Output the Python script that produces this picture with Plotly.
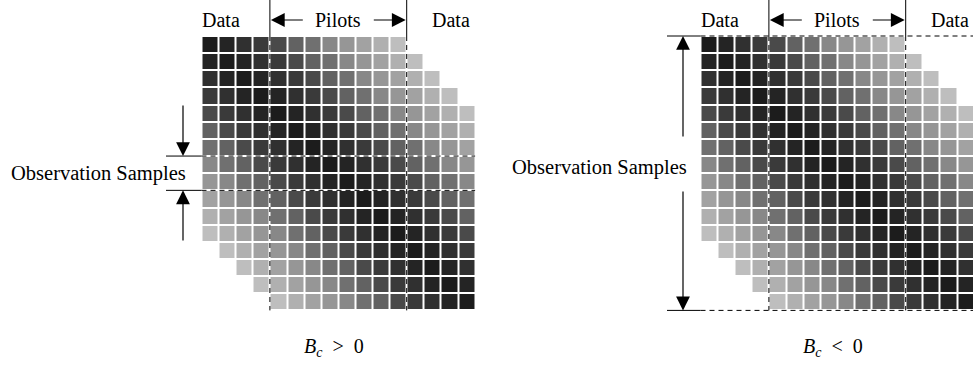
import plotly.graph_objects as go

# ---- data ----
N_ROWS = 16
N_COLS = 16
BAND = 11  # cells filled where |row - col| <= BAND
# gray level (0-255) by diagonal distance |row - col|
GRAY_BY_DIST = [28, 36, 48, 58, 74, 98, 112, 136, 150, 162, 176, 190]
DATA_COLS_LEFT = 4
PILOT_COLS = 8
PANEL_LABELS = ["<i>B</i><sub><i>c</i></sub>  &gt;  0", "<i>B</i><sub><i>c</i></sub>  &lt;  0"]

W, H = 973, 367
CELL_W = 17.1
CELL_H = 17.15
GRID_TOP = 36
PANEL_LEFTS = [201.5, 700.5]
FONT = "Liberation Serif, Times New Roman, serif"

z = [[(GRAY_BY_DIST[abs(r - c)] if abs(r - c) <= BAND else None) for c in range(N_COLS)]
     for r in range(N_ROWS)]

fig = go.Figure()
for left in PANEL_LEFTS:
    xs = [left + CELL_W * (c + 0.5) for c in range(N_COLS)]
    ys = [GRID_TOP + CELL_H * (r + 0.5) for r in range(N_ROWS)]
    fig.add_trace(go.Heatmap(
        z=z, x=xs, y=ys, zmin=0, zmax=255,
        colorscale=[[0, "rgb(0,0,0)"], [1, "rgb(255,255,255)"]],
        showscale=False, xgap=2, ygap=2, hoverinfo="skip"))

shapes = []
annotations = []
LINE = dict(color="black", width=1)
DASH = dict(color="black", width=1, dash="5px,4px")
grid_bottom = GRID_TOP + CELL_H * N_ROWS

def text(x, y, s, size=20):
    annotations.append(dict(x=x, y=y, xref="x", yref="y", text=s, showarrow=False,
                            font=dict(family=FONT, size=size, color="black"),
                            xanchor="center", yanchor="middle"))

def arrow(x0, y0, x1, y1):
    # arrow head at (x1, y1)
    annotations.append(dict(x=x1, y=y1, ax=x0, ay=y0, xref="x", yref="y",
                            axref="x", ayref="y", text="", showarrow=True,
                            arrowhead=2, arrowsize=2.3, arrowwidth=1.2,
                            arrowcolor="black"))

for i, left in enumerate(PANEL_LEFTS):
    xp0 = left + CELL_W * DATA_COLS_LEFT
    xp1 = left + CELL_W * (DATA_COLS_LEFT + PILOT_COLS)
    # pilot boundary lines
    for xb in (xp0, xp1):
        shapes.append(dict(type="line", x0=xb, x1=xb, y0=0, y1=GRID_TOP, line=LINE))
        shapes.append(dict(type="line", x0=xb, x1=xb, y0=GRID_TOP, y1=grid_bottom, line=DASH))
    # headings
    xm = (xp0 + xp1) / 2
    text(left + 19.5, 20, "Data")
    text(xp1 + 44, 20, "Data")
    text(xm, 20, "Pilots")
    arrow(xm - 34, 20, xp0 + 1, 20)
    arrow(xm + 34, 20, xp1 - 1, 20)
    # bottom label
    text(left + CELL_W * N_COLS / 2 - 4, 347, PANEL_LABELS[i], size=20)

# left panel: observation samples rows 7-8
left = PANEL_LEFTS[0]
ya = GRID_TOP + CELL_H * 7
yb = GRID_TOP + CELL_H * 9
for yy in (ya, yb):
    shapes.append(dict(type="line", x0=166, x1=left, y0=yy, y1=yy, line=LINE))
    shapes.append(dict(type="line", x0=left, x1=left + CELL_W * N_COLS, y0=yy, y1=yy, line=DASH))
arrow(183, 104, 183, ya)
arrow(183, 242, 183, yb)
text(98, (ya + yb) / 2, "Observation Samples", size=20.5)

# right panel: observation samples all rows
left = PANEL_LEFTS[1]
for yy in (GRID_TOP, grid_bottom):
    shapes.append(dict(type="line", x0=667, x1=left, y0=yy, y1=yy, line=LINE))
    shapes.append(dict(type="line", x0=left, x1=W, y0=yy, y1=yy, line=DASH))
arrow(683, 138, 683, GRID_TOP)
arrow(683, 190, 683, grid_bottom)
text(599, 167, "Observation Samples", size=20.5)

fig.update_layout(
    width=W, height=H, margin=dict(l=0, r=0, t=0, b=0),
    paper_bgcolor="white", plot_bgcolor="white",
    xaxis=dict(range=[0, W], visible=False, fixedrange=True),
    yaxis=dict(range=[H, 0], visible=False, fixedrange=True),
    shapes=shapes, annotations=annotations, showlegend=False,
)
fig.write_html("out.html")
